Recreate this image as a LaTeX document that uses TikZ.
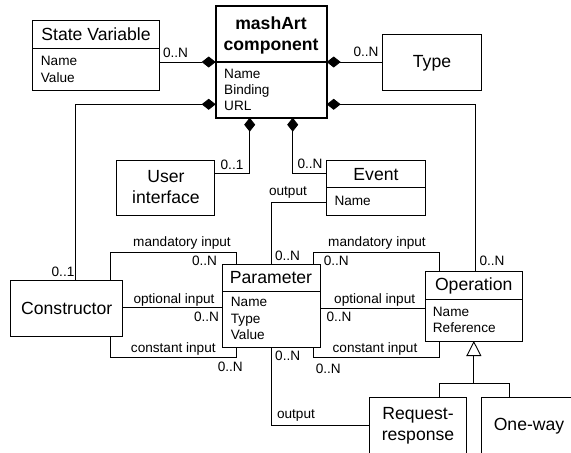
\documentclass[tikz,border=0pt]{standalone}
\usepackage{fontspec}
\setmainfont{Liberation Sans}
\usetikzlibrary{arrows.meta}
\tikzset{
  box/.style={draw, line width=.9pt, inner sep=0pt, outer sep=0pt, anchor=north west},
  boldbox/.style={box, line width=2pt},
  cls/.style={inner sep=0pt, anchor=base, font=\fontsize{17.6}{21}\selectfont},
  clsb/.style={cls, font=\fontsize{17.6}{21}\selectfont\bfseries},
  attr/.style={inner sep=0pt, anchor=base west, font=\fontsize{13.6}{16}\selectfont},
  lbl/.style={inner sep=0pt, anchor=base, font=\fontsize{13.6}{16}\selectfont},
  conn/.style={line width=.9pt},
  comp/.style={conn, {Diamond[length=14pt,width=11pt]}-},
  gen/.style={conn, -{Triangle[open,length=15pt,width=15pt]}},
}
\begin{document}
\begin{tikzpicture}[x=1pt, y=-1pt]
    \useasboundingbox (0,0) rectangle (571,453);
    \clip (0,0) rectangle (571,453);
    % classes
    \node[box, minimum width=126.6pt, minimum height=69.3pt] (sv) at (32.7,20.7) {};
    \node[boldbox, minimum width=111pt, minimum height=111.7pt] (ma) at (215.7,6) {};
    \node[box, minimum width=98.3pt, minimum height=55.7pt] (ty) at (382.7,34.3) {};
    \node[box, minimum width=98pt, minimum height=55pt] (ui) at (116.7,160) {};
    \node[box, minimum width=98.3pt, minimum height=55.7pt] (ev) at (326.7,160) {};
    \node[box, minimum width=112pt, minimum height=56pt] (co) at (10.7,280) {};
    \node[box, minimum width=98pt, minimum height=83.3pt] (pa) at (222,264) {};
    \node[box, minimum width=97.7pt, minimum height=69.3pt] (op) at (425,271.7) {};
    \node[box, minimum width=97.7pt, minimum height=80pt] (rr) at (369,397.7) {};
    \node[box, minimum width=92pt, minimum height=80pt] (ow) at (481,397.7) {};
    % compartments
    \draw[conn] (sv.west |- 0,48.3) -- (sv.east |- 0,48.3);
    \draw[line width=1.4pt] (ma.west |- 0,62) -- (ma.east |- 0,62);
    \draw[conn] (ev.west |- 0,187.3) -- (ev.east |- 0,187.3);
    \draw[conn] (pa.west |- 0,291.7) -- (pa.east |- 0,291.7);
    \draw[conn] (op.west |- 0,299.3) -- (op.east |- 0,299.3);
    % names and attributes
    \node[cls] (sv-t) at (96,40) {State Variable};
    \node[attr] (sv-a1) at (40.7,65.7) {Name};
    \node[attr] (sv-a2) at (40.7,82) {Value};
    \node[clsb] (ma-t1) at (271,29.3) {mashArt};
    \node[clsb] (ma-t2) at (271,50) {component};
    \node[attr] (ma-a1) at (224,78.3) {Name};
    \node[attr] (ma-a2) at (224,94.5) {Binding};
    \node[attr] (ma-a3) at (224,110.7) {URL};
    \node[cls] (ty-t) at (432,67.7) {Type};
    \node[cls] (ui-t1) at (166,182.7) {User};
    \node[cls] (ui-t2) at (166,203) {interface};
    \node[cls] (ev-t) at (376,180) {Event};
    \node[attr] (ev-a1) at (334.3,205.7) {Name};
    \node[cls] (co-t) at (66.7,314.3) {Constructor};
    \node[cls] (pa-t) at (271,283.3) {Parameter};
    \node[attr] (pa-a1) at (230.7,306.7) {Name};
    \node[attr] (pa-a2) at (230.7,323) {Type};
    \node[attr] (pa-a3) at (230.7,339.3) {Value};
    \node[cls] (op-t) at (473.7,290.7) {Operation};
    \node[attr] (op-a1) at (432.7,316.7) {Name};
    \node[attr] (op-a2) at (432.7,332.3) {Reference};
    \node[cls] (rr-t1) at (418,419.3) {Request-};
    \node[cls] (rr-t2) at (418,440) {response};
    \node[cls] (ow-t) at (529,430) {One-way};
    % composition
    \draw[comp] (ma.west |- 0,62) -- (sv.east |- 0,62);
    \draw[comp] (ma.east |- 0,62) -- (ty.west |- 0,62);
    \draw[comp] (ma.west |- 0,104.3) -| (75,0 |- co.north);
    \draw[comp] (ma.east |- 0,104.3) -| (475.3,0 |- op.north);
    \draw[comp] (249.7,0 |- ma.south) |- (ui.east |- 0,173.3);
    \draw[comp] (292.7,0 |- ma.south) |- (ev.west |- 0,173.3);
    % parameters
    \draw[conn] (ev.west |- 0,202) -| (pa.north);
    \draw[conn] (pa.south) |- (rr.west |- 0,425);
    \draw[conn] (110,0 |- co.north) |- (236,252.3) -- (236,0 |- pa.north);
    \draw[conn] (co.east |- 0,307.7) -- (pa.west |- 0,307.7);
    \draw[conn] (110,0 |- co.south) |- (236,357.7) -- (236,0 |- pa.south);
    \draw[conn] (313.3,0 |- pa.north) |- (439,252.3) -- (439,0 |- op.north);
    \draw[conn] (pa.east |- 0,308.3) -- (op.west |- 0,308.3);
    \draw[conn] (313.3,0 |- pa.south) |- (439,357.7) -- (439,0 |- op.south);
    % generalization
    \coordinate (g) at (op.south |- 0,383.3);
    \draw[conn] (439,0 |- rr.north) |- (g) -| (509.3,0 |- ow.north);
    \draw[gen] (g) -- (op.south);
    % multiplicities and roles
    \node[lbl] (m-sv) at (175.5,57) {0..N};
    \node[lbl] (m-ty) at (366,56.7) {0..N};
    \node[lbl] (m-co) at (63,276) {0..1};
    \node[lbl] (m-op) at (492,265.7) {0..N};
    \node[lbl] (m-ui) at (232,169) {0..1};
    \node[lbl] (m-ev) at (310,168) {0..N};
    \node[lbl] (r-ev) at (288,195) {output};
    \node[lbl] (m-pev) at (287.5,260.7) {0..N};
    \node[lbl] (r-cm) at (182,246.7) {mandatory input};
    \node[lbl] (m-cm) at (204.5,265) {0..N};
    \node[lbl] (r-co) at (174,303.3) {optional input};
    \node[lbl] (m-cop) at (206.5,321.7) {0..N};
    \node[lbl] (r-cc) at (173.3,352) {constant input};
    \node[lbl] (m-cc) at (230.3,371.7) {0..N};
    \node[lbl] (r-om) at (377,246.7) {mandatory input};
    \node[lbl] (m-om) at (336.3,265) {0..N};
    \node[lbl] (r-oo) at (374.7,303.3) {optional input};
    \node[lbl] (m-oo) at (339,321.7) {0..N};
    \node[lbl] (r-oc) at (375,352) {constant input};
    \node[lbl] (m-oc) at (328.3,373.3) {0..N};
    \node[lbl] (m-prr) at (287.7,360) {0..N};
    \node[lbl] (r-rr) at (296,418.3) {output};
\end{tikzpicture}
\end{document}
